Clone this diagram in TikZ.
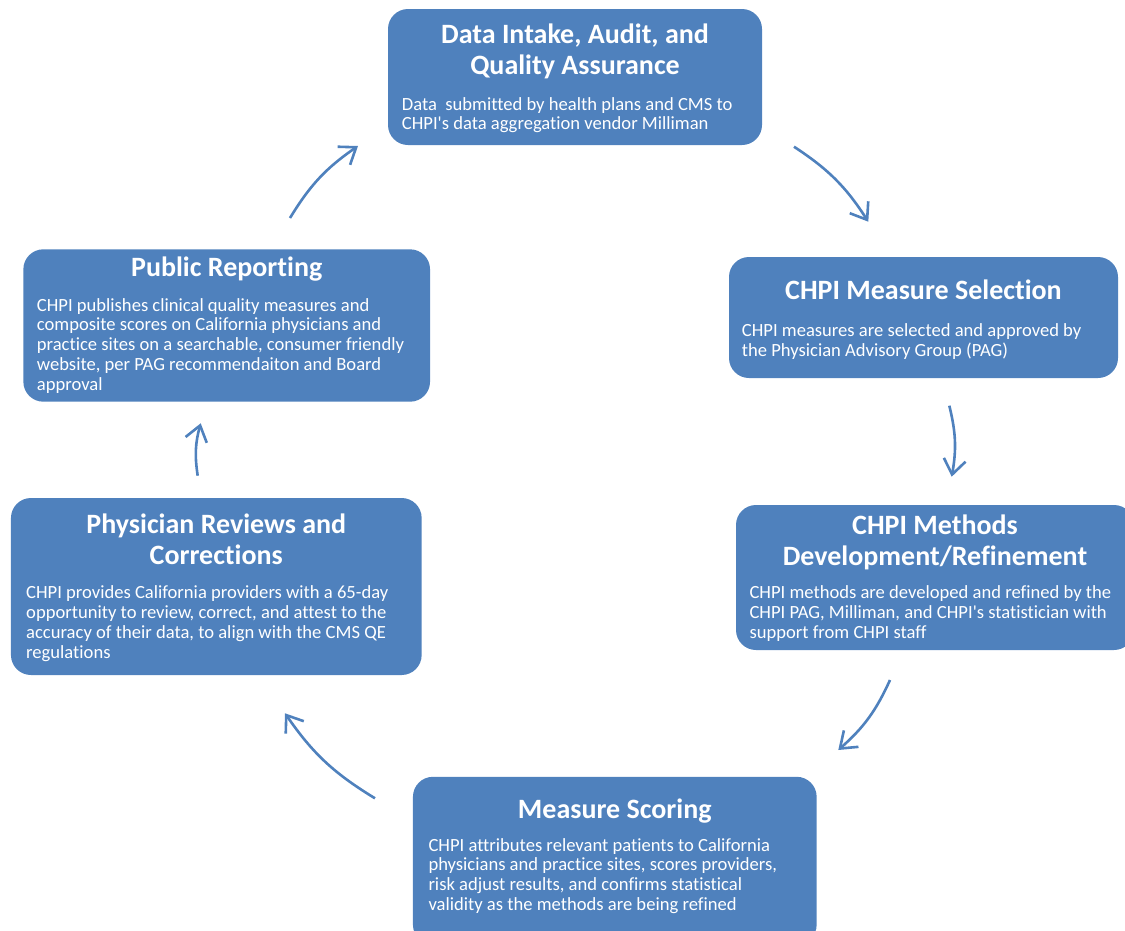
\documentclass[tikz,border=0pt]{standalone}
\usepackage{fontspec}
\setmainfont{Carlito}[Ligatures={NoCommon,NoRare,NoContextual}]
\usetikzlibrary{arrows.meta}
\definecolor{boxblue}{HTML}{4F81BD}
\newcommand\mkttl[1]{\parbox[t]{460pt}{\centering #1}}
\newcommand\mkbody[1]{\parbox[t]{460pt}{\raggedright #1}}
\newcommand\apos{\textquotesingle}
\begin{document}
\begin{tikzpicture}[x=1pt,y=-1pt,
  stage/.style={fill=boxblue, rounded corners=20pt, draw=none, inner sep=0pt},
  ttl/.style={anchor=base, inner sep=0pt, text=white, font=\fontsize{28}{31}\selectfont\bfseries},
  bdy/.style={anchor=base west, inner sep=0pt, text=white, font=\fontsize{18.6}{19.9}\selectfont},
  flow/.style={draw=boxblue, line width=2.6pt, -{Straight Barb[length=15pt,width=22pt]}, bend left=12}
]
\useasboundingbox (0,0) rectangle (1125,930);
\clip (0,0) rectangle (1125,930);

% boxes
\node[stage, minimum width=374pt, minimum height=136pt] (b1) at (575,77) {};
\node[stage, minimum width=389pt, minimum height=121pt] (b2) at (923.5,317.5) {};
\node[stage, minimum width=398pt, minimum height=145pt] (b3) at (935,577.5) {};
\node[stage, minimum width=403.7pt, minimum height=168pt] (b4) at (614.8,860.8) {};
\node[stage, minimum width=410.7pt, minimum height=177pt] (b5) at (216.3,586.5) {};
\node[stage, minimum width=406.7pt, minimum height=152.4pt] (b6) at (226.7,325.5) {};

% titles
\node[ttl] (t1) at (575,43.5) {\mkttl{Data Intake, Audit, and\\Quality Assurance}};
\node[ttl] (t2) at (923.5,299.8) {\mkttl{CHPI Measure Selection}};
\node[ttl] (t3) at (935,534.8) {\mkttl{CHPI Methods\\Development/Refinement}};
\node[ttl] (t4) at (614.8,818.2) {\mkttl{Measure Scoring}};
\node[ttl] (t5) at (216.3,533.2) {\mkttl{Physician Reviews and\\Corrections}};
\node[ttl] (t6) at (226.7,276.5) {\mkttl{Public Reporting}};

% bodies
\node[bdy] (d1) at (401.7,110) {\mkbody{Data\ \ submitted by health plans and CMS to\\CHPI\apos s data aggregation vendor Milliman}};
\node[bdy] (d2) at (741.7,336.5) {\mkbody{CHPI measures are selected and approved by\\the Physician Advisory Group (PAG)}};
\node[bdy] (d3) at (749.3,598.3) {\mkbody{CHPI methods are developed and refined by the\\CHPI PAG, Milliman, and CHPI\apos s statistician with\\support from CHPI staff}};
\node[bdy] (d4) at (428.3,851) {\mkbody{CHPI attributes relevant patients to California\\physicians and practice sites, scores providers,\\risk adjust results, and confirms statistical\\validity as the methods are being refined}};
\node[bdy] (d5) at (26,598.3) {\mkbody{CHPI provides California providers with a 65-day\\opportunity to review, correct, and attest to the\\accuracy of their data, to align with the CMS QE\\regulations}};
\node[bdy] (d6) at (36.7,311) {\mkbody{CHPI publishes clinical quality measures and\\composite scores on California physicians and\\practice sites on a searchable, consumer friendly\\website, per PAG recommendaiton and Board\\approval}};

% arrow end points
\coordinate (a1s) at (290,218);   \coordinate (a1e) at (358,146);
\coordinate (a2s) at (794,146.7); \coordinate (a2e) at (868.3,221.7);
\coordinate (a3s) at (949.3,405.7); \coordinate (a3e) at (951.7,476.7);
\coordinate (a4s) at (890,680);   \coordinate (a4e) at (838.3,750);
\coordinate (a5s) at (375,798.3); \coordinate (a5e) at (285,713.3);
\coordinate (a6s) at (197.7,475.7); \coordinate (a6e) at (200.7,423.3);

\draw[flow] (a1s) to (a1e);
\draw[flow] (a2s) to (a2e);
\draw[flow] (a3s) to (a3e);
\draw[flow] (a4s) to (a4e);
\draw[flow] (a5s) to (a5e);
\draw[flow] (a6s) to (a6e);
\end{tikzpicture}
\end{document}
